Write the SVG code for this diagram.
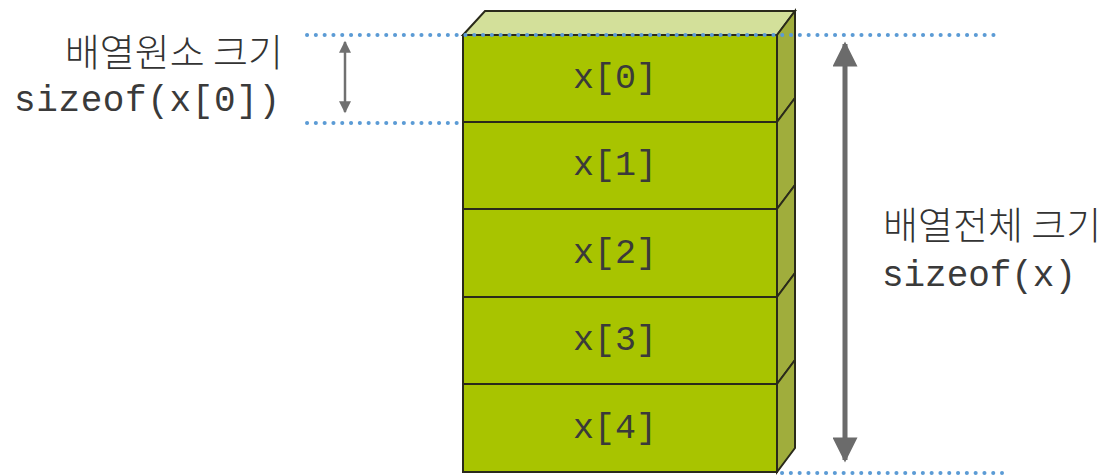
<svg xmlns="http://www.w3.org/2000/svg" width="1111" height="475" viewBox="0 0 1111 475">
<style>
.front{fill:#a8c400;stroke:#2a2a1a;stroke-width:2}
.side{fill:#a0ad3c;stroke:#2a2a1a;stroke-width:2}
.top{fill:#d3e09a;stroke:#2a2a1a;stroke-width:2}
.lbl{font-family:"Liberation Mono","Courier New",monospace;font-size:35px;fill:#3a3a3a}
.kor{font-family:"Noto Sans CJK KR","Noto Sans",sans-serif;font-size:38px;font-weight:300;fill:#333}
.code{font-family:"Liberation Mono","Courier New",monospace;font-size:36px;fill:#3a3a3a}
.dot{stroke:#5b9bd5;stroke-width:4;stroke-linecap:round;stroke-dasharray:0.1 8.7;fill:none}
</style>
<defs>
<marker id="ahs" viewBox="0 0 10 10" refX="9" refY="5" markerWidth="14" markerHeight="12" markerUnits="userSpaceOnUse" orient="auto-start-reverse"><path d="M0,0 L10,5 L0,10 z" fill="#707070"/></marker>
<marker id="ahl" viewBox="0 0 10 10" refX="9" refY="5" markerWidth="8" markerHeight="5" orient="auto-start-reverse"><path d="M0,0 L10,5 L0,10 z" fill="#6b6b6b"/></marker>
</defs>
<g id="array">
<polygon class="top" points="463,35 485,11 795,11 777,35"/>
<g id="x0"><rect class="front" x="463" y="35" width="314" height="87"/><polygon class="side" points="777,35 795,11 795,98 777,122"/><text class="lbl" x="615" y="88" text-anchor="middle">x[0]</text></g>
<g id="x1"><rect class="front" x="463" y="122" width="314" height="87"/><polygon class="side" points="777,122 795,98 795,185 777,209"/><text class="lbl" x="615" y="175" text-anchor="middle">x[1]</text></g>
<g id="x2"><rect class="front" x="463" y="209" width="314" height="88"/><polygon class="side" points="777,209 795,185 795,273 777,297"/><text class="lbl" x="615" y="263" text-anchor="middle">x[2]</text></g>
<g id="x3"><rect class="front" x="463" y="297" width="314" height="87"/><polygon class="side" points="777,297 795,273 795,360 777,384"/><text class="lbl" x="615" y="350" text-anchor="middle">x[3]</text></g>
<g id="x4"><rect class="front" x="463" y="384" width="314" height="88"/><polygon class="side" points="777,384 795,360 795,448 777,472"/><text class="lbl" x="615" y="438" text-anchor="middle">x[4]</text></g>
</g>
<g id="connectors">
<line class="dot" x1="307" y1="35" x2="1002" y2="35"/>
<line class="dot" x1="307" y1="123" x2="462" y2="123"/>
<line class="dot" x1="782" y1="473" x2="1002" y2="473"/>
<line x1="345" y1="42" x2="345" y2="112" stroke="#707070" stroke-width="2.5" marker-start="url(#ahs)" marker-end="url(#ahs)"/>
<line x1="845" y1="44" x2="845" y2="460" stroke="#6b6b6b" stroke-width="5" marker-start="url(#ahl)" marker-end="url(#ahl)"/>
</g>
<g id="label-element">
<text class="kor" x="283" y="66" text-anchor="end">배열원소 크기</text>
<text class="code" x="14" y="111" textLength="266" lengthAdjust="spacing">sizeof(x[0])</text>
</g>
<g id="label-total">
<text class="kor" x="883" y="239">배열전체 크기</text>
<text class="code" x="882" y="286" textLength="194" lengthAdjust="spacing">sizeof(x)</text>
</g>
</svg>
